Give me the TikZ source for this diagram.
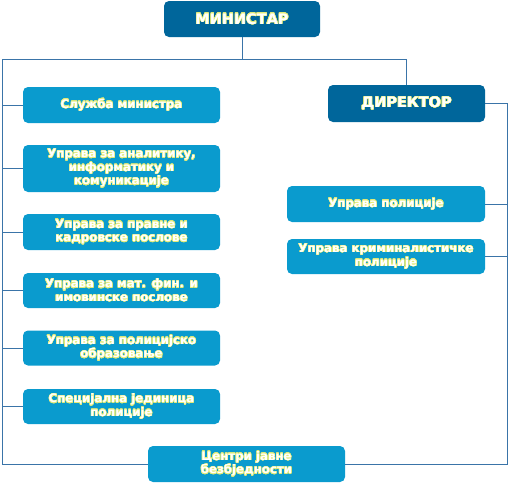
\documentclass[tikz,border=0pt]{standalone}
\usepackage{fontspec}
\setmainfont{DejaVu Sans}
\usepackage{contour}
\contourlength{0.4pt}
\contournumber{16}
\definecolor{darkbox}{HTML}{00669B}
\definecolor{lightbox}{HTML}{0A9BCE}
\definecolor{linec}{HTML}{3A74A8}
\definecolor{glowc}{HTML}{E4EC78}
\newcommand{\glw}[1]{\contour{glowc}{#1}}
\begin{document}
\begin{tikzpicture}[x=1pt,y=1pt,
  boxbase/.style={rounded corners=5pt, text=white, font=\bfseries\fontsize{11.8}{13.6}\selectfont, align=center, inner sep=1pt},
  topbox/.style={boxbase, fill=darkbox, minimum width=156pt, minimum height=36pt, font=\bfseries\fontsize{14.5}{16}\selectfont},
  unitbox/.style={boxbase, fill=lightbox, minimum width=197pt},
  conn/.style={draw=linec, line width=0.9pt}]
\useasboundingbox (0,0) rectangle (511,-483);
\node[topbox] (ministar) at (242,-19) {\glw{МИНИСТАР}};
\node[topbox, minimum width=157pt, minimum height=37pt] (direktor) at (406.5,-103.5) {\glw{ДИРЕКТОР}};
\node[unitbox, minimum height=36pt] (sluzba) at (121.5,-105) {\glw{Служба министра}};
\node[unitbox, minimum height=47pt] (analitika) at (121.5,-168.5) {\glw{Управа за аналитику,}\\\glw{информатику и}\\\glw{комуникације}};
\node[unitbox, minimum height=36pt] (pravne) at (121.5,-232) {\glw{Управа за правне и}\\\glw{кадровске послове}};
\node[unitbox, minimum height=35pt] (mat) at (121.5,-290.5) {\glw{Управа за мат. фин. и}\\\glw{имовинске послове}};
\node[unitbox, minimum height=35pt] (obraz) at (121.5,-348) {\glw{Управа за полицијско}\\\glw{образовање}};
\node[unitbox, minimum height=35pt] (spec) at (121.5,-406.5) {\glw{Специјална јединица}\\\glw{полиције}};
\node[unitbox, minimum height=36pt] (centri) at (246.5,-464) {\glw{Центри јавне}\\\glw{безбједности}};
\node[unitbox, minimum width=198pt, minimum height=36pt] (policija) at (386,-204) {\glw{Управа полиције}};
\node[unitbox, minimum width=198pt, minimum height=35pt] (krim) at (386,-256.5) {\glw{Управа криминалистичке}\\\glw{полиције}};
\coordinate (lt) at (2,-59);
\coordinate (rt) at (507,-103.5);
\draw[conn] (ministar.south) -- (ministar.south |- lt) -| (direktor.north);
\draw[conn] (ministar.south |- lt) -- (lt) |- (centri.west);
\foreach \n in {sluzba,analitika,pravne,mat,obraz,spec}
  \draw[conn] (\n.west) -- (\n.west -| lt);
\draw[conn] (direktor.east) -- (rt) |- (centri.east);
\foreach \n in {policija,krim}
  \draw[conn] (\n.east) -- (\n.east -| rt);
\end{tikzpicture}
\end{document}
